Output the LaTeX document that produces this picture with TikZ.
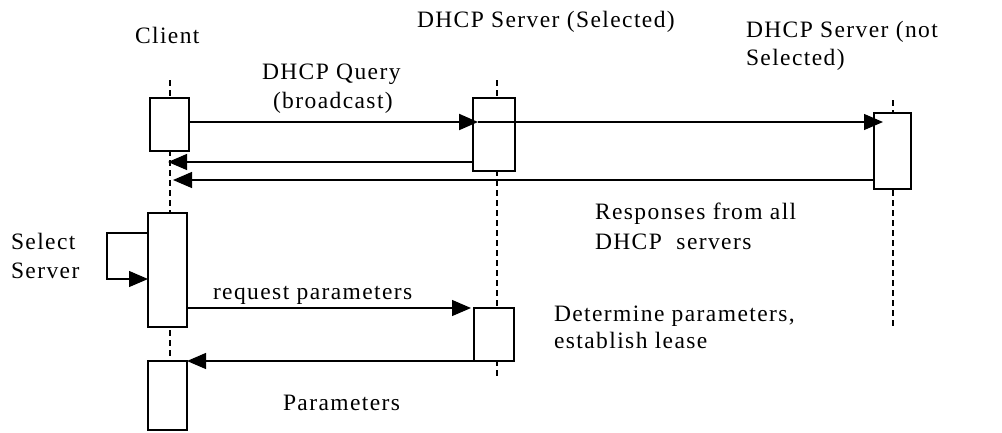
\documentclass[tikz,border=0pt]{standalone}
\usepackage{fontspec}
\setmainfont[LetterSpace=6]{Liberation Serif}
\usetikzlibrary{arrows.meta}
\begin{document}
\begin{tikzpicture}[x=1pt,y=-1pt,
  lbl/.style={anchor=base west, inner sep=0pt, outer sep=0pt, font=\fontsize{23.5pt}{29pt}\selectfont},
  actbox/.style={draw, line width=1.6pt, fill=white, inner sep=0pt, outer sep=0pt, anchor=north west},
  life/.style={line width=1.2pt, dash pattern=on 6pt off 4pt},
  msg/.style={line width=1.2pt, -{Triangle[length=19pt,width=16pt]}},
  bmsg/.style={line width=2pt, -{Triangle[length=19pt,width=16pt]}}]
\fill[white] (0,0) rectangle (1002,432);
\useasboundingbox (0,0) rectangle (1002,432);
% lifelines
\coordinate (cTop) at (170,80);  \coordinate (cBot) at (170,361);
\coordinate (sTop) at (497,80);  \coordinate (sBot) at (497,378);
\coordinate (nTop) at (893,100); \coordinate (nBot) at (893,326);
\draw[life] (cTop) -- (cBot);
\draw[life] (sTop) -- (sBot);
\draw[life] (nTop) -- (nBot);
% activation boxes
\node[actbox, minimum width=39pt, minimum height=53pt]  (c1) at (150,98) {};
\node[actbox, minimum width=39pt, minimum height=114pt] (c2) at (148,213) {};
\node[actbox, minimum width=39pt, minimum height=69pt]  (c3) at (148,361) {};
\node[actbox, minimum width=42pt, minimum height=73pt]  (s1) at (473,98) {};
\node[actbox, minimum width=40pt, minimum height=53pt]  (s2) at (474,308) {};
\node[actbox, minimum width=37pt, minimum height=76pt]  (n1) at (874,113) {};
% helper levels
\coordinate (qy) at (0,122);
\coordinate (r1y) at (0,162);
\coordinate (r2y) at (0,180);
\coordinate (ly) at (0,233);
\coordinate (loopB) at (107,279);
% messages
\draw[bmsg] (c1.east |- qy) -- ([xshift=5pt]s1.west |- qy);
\draw[msg] ([xshift=5pt]s1.west |- qy) -- ([xshift=9pt]n1.west |- qy);
\draw[msg] (s1.west |- r1y) -- ([xshift=-2pt]cTop |- r1y);
\draw[msg] (n1.west |- r2y) -- ([xshift=3pt]cTop |- r2y);
\draw[msg] (c2.west |- ly) -| (loopB) -- (c2.west |- loopB);
\draw[msg] (c2.east |- s2.north) -- ([xshift=-3pt]s2.north west);
\draw[msg] (s2.south west) -- (c3.north east);
% labels
\node[lbl] (client) at (135,43) {Client};
\node[lbl] (selT) at (417,27) {DHCP Server (Selected)};
\node[lbl] (nsT1) at (746,37) {DHCP Server (not};
\node[lbl] (nsT2) at (746,65) {Selected)};
\node[lbl] (q1) at (262,79) {DHCP Query};
\node[lbl] (q2) at (273,108) {(broadcast)};
\node[lbl] (r1) at (595,219) {Responses from all};
\node[lbl] (r2) at (595,249) {DHCP~~servers};
\node[lbl] (sel1) at (11,249) {Select};
\node[lbl] (sel2) at (11,278) {Server};
\node[lbl] (req) at (213,299) {request parameters};
\node[lbl] (det1) at (554,321) {Determine parameters,};
\node[lbl] (det2) at (554,348) {establish lease};
\node[lbl] (par) at (283,410) {Parameters};
\end{tikzpicture}
\end{document}
